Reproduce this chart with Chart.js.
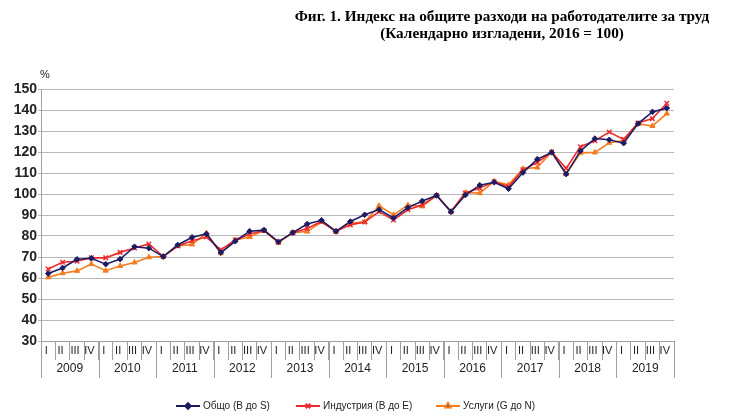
<!DOCTYPE html>
<html><head><meta charset="utf-8">
<script src="https://cdn.jsdelivr.net/npm/chart.js@4.4.1/dist/chart.umd.min.js"></script>
<style>html,body{margin:0;padding:0;background:#fff;}canvas{display:block;}</style>
</head><body>
<canvas id="c" width="732" height="420"></canvas>
<script>
const quarterNames = ['I', 'II', 'III', 'IV'];
const years = ['2009','2010','2011','2012','2013','2014','2015','2016','2017','2018','2019'];
const total = [
  62.1, 64.8, 68.9, 69.4,  66.6, 69.0, 74.9, 74.2,  70.2, 75.7, 79.4, 81.0,
  72.1, 77.5, 82.3, 82.8,  77.2, 81.6, 85.7, 87.5,  82.2, 86.9, 90.1, 92.6,
  88.6, 93.5, 96.7, 99.3,  91.5, 99.5, 104.2, 105.6, 102.5, 110.2, 116.6, 119.8,
  109.5, 120.5, 126.4, 125.8, 124.2, 133.5, 139.1, 140.9
];
const industry = [
  64.3, 67.5, 68.0, 69.6,  69.6, 72.2, 74.3, 76.2,  70.2, 75.3, 77.7, 79.5,
  73.4, 78.1, 81.0, 82.6,  77.2, 81.5, 83.6, 86.9,  82.2, 85.3, 86.7, 91.6,
  87.6, 92.5, 94.8, 99.3,  91.7, 100.5, 102.8, 105.8, 103.4, 111.5, 115.0, 120.0,
  112.2, 122.5, 125.4, 129.5, 126.0, 133.8, 135.9, 143.2
];
const services = [
  60.3, 62.3, 63.4, 66.6,  63.5, 65.7, 67.4, 69.9,  70.2, 75.2, 76.0, 81.4,
  71.8, 78.1, 79.5, 82.6,  76.8, 81.6, 82.1, 86.6,  82.2, 86.2, 86.6, 94.4,
  90.1, 94.7, 94.1, 99.3,  91.7, 100.7, 100.4, 106.0, 104.4, 112.0, 112.6, 120.0,
  109.4, 119.6, 119.8, 124.4, 125.4, 133.4, 132.4, 138.3
];
const seriesNames = ['Общо (B до S)', 'Индустрия (B до E)', 'Услуги (G до N)'];
const titleLines = ['Фиг. 1. Индекс на общите разходи на работодателите за труд', '(Календарно изгладени, 2016 = 100)'];
const unitLabel = '%';

const labels = [];
years.forEach(() => quarterNames.forEach(q => labels.push(q)));

const decor = {
  id: 'decor',
  afterDraw(chart) {
    const ctx = chart.ctx;
    const xs = chart.scales.x;
    const area = chart.chartArea;
    const cell = xs.getPixelForValue(1) - xs.getPixelForValue(0);
    ctx.save();
    // title (slightly widened like the reference)
    ctx.fillStyle = '#000';
    ctx.font = 'bold 14px "Liberation Serif"';
    ctx.textAlign = 'center';
    ctx.textBaseline = 'middle';
    ctx.save();
    ctx.translate(502, 0);
    ctx.scale(1.09, 1);
    ctx.fillText(titleLines[0], 0, 17);
    ctx.fillText(titleLines[1], 0, 34);
    ctx.restore();
    // unit
    ctx.font = '11px "Liberation Sans"';
    ctx.fillStyle = '#222';
    ctx.textAlign = 'left';
    ctx.fillText(unitLabel, 40, 75);
    // year separators and labels
    ctx.strokeStyle = '#a0a0a0';
    ctx.lineWidth = 1;
    for (let k = 0; k <= years.length; k++) {
      const px = Math.round(xs.getPixelForValue(k * 4) - cell / 2) + 0.5;
      ctx.beginPath();
      ctx.moveTo(px, area.bottom);
      ctx.lineTo(px, area.bottom + 37);
      ctx.stroke();
    }
    ctx.font = '12px "Liberation Sans"';
    ctx.fillStyle = '#222';
    ctx.textAlign = 'center';
    years.forEach((y, k) => {
      const cx = (xs.getPixelForValue(k * 4) + xs.getPixelForValue(k * 4 + 3)) / 2;
      ctx.fillText(y, cx, area.bottom + 28);
    });
    // legend
    const items = chart.data.datasets;
    const lx = [176, 296, 436];
    const ly = 406;
    ctx.font = '10px "Liberation Sans"';
    items.forEach((ds, i) => {
      ctx.strokeStyle = ds.borderColor;
      ctx.lineWidth = 2;
      ctx.beginPath();
      ctx.moveTo(lx[i], ly);
      ctx.lineTo(lx[i] + 24, ly);
      ctx.stroke();
      Chart.helpers.drawPoint(ctx, {
        pointStyle: ds.pointStyle, radius: ds.pointRadius, rotation: 0,
        borderWidth: ds.pointBorderWidth || 1
      }, lx[i] + 12, ly);
      ctx.fillStyle = '#222';
      ctx.textAlign = 'left';
      ctx.fillText(ds.label, lx[i] + 27, ly + 0.5);
    });
    ctx.restore();
  }
};

new Chart(document.getElementById('c'), {
  type: 'line',
  data: {
    labels: labels,
    datasets: [
      { label: seriesNames[0], data: total, borderColor: '#1c1c64', backgroundColor: '#1c1c64',
        borderWidth: 1.6, pointStyle: 'rectRot', pointRadius: 2.8, pointBorderWidth: 1, tension: 0 },
      { label: seriesNames[1], data: industry, borderColor: '#ec2a2e', backgroundColor: '#ec2a2e',
        borderWidth: 1.6, pointStyle: 'crossRot', pointRadius: 3.2, pointBorderWidth: 1.5, tension: 0 },
      { label: seriesNames[2], data: services, borderColor: '#f47c20', backgroundColor: '#f47c20',
        borderWidth: 1.6, pointStyle: 'triangle', pointRadius: 3, pointBorderWidth: 1, tension: 0 }
    ]
  },
  options: {
    responsive: false,
    animation: false,
    devicePixelRatio: 1,
    layout: { padding: { top: 89, right: 58, left: 0, bottom: 0 } },
    plugins: { legend: { display: false }, tooltip: { enabled: false }, title: { display: false } },
    scales: {
      x: {
        type: 'category',
        offset: true,
        grid: { offset: true, drawOnChartArea: false, drawTicks: true, tickLength: 19, color: '#a0a0a0', lineWidth: 1 },
        border: { color: '#a0a0a0' },
        ticks: { autoSkip: false, maxRotation: 0, minRotation: 0, padding: -16, labelOffset: -2,
                 font: { size: 11, family: 'Liberation Sans' }, color: '#222' },
        afterFit: s => { s.height = 79; }
      },
      y: {
        min: 30, max: 150,
        ticks: { stepSize: 10, padding: 1, font: { size: 14, weight: 'bold', family: 'Liberation Sans' }, color: '#222' },
        grid: { color: '#b8b8b8', lineWidth: 1, tickLength: 3 },
        border: { color: '#a0a0a0' },
        afterFit: s => { s.width = 41; }
      }
    }
  },
  plugins: [decor]
});
</script>
</body></html>
